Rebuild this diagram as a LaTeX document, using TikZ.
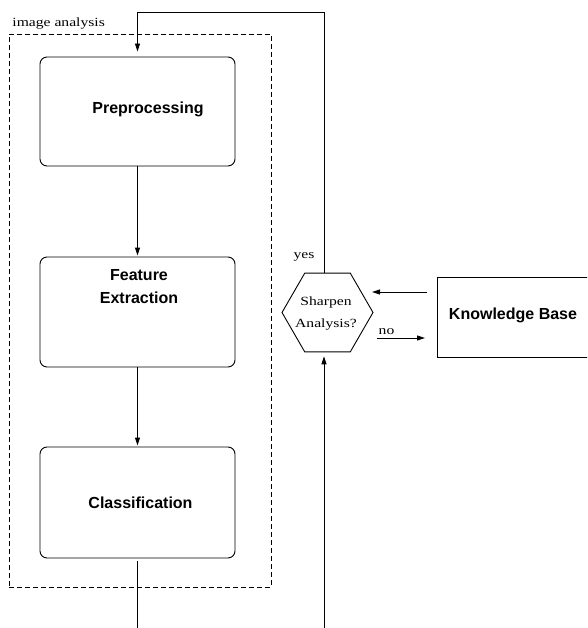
\documentclass[tikz,border=0pt]{standalone}
\usepackage{fontspec}
\setmainfont{Liberation Serif}
\newfontfamily\xfsans[FakeStretch=1.0]{Liberation Sans}
\newfontfamily\xfserif[FakeStretch=1.25]{Liberation Serif}
\usetikzlibrary{arrows.meta,shapes.geometric}
\begin{document}
\begin{tikzpicture}[x=1pt,y=-1pt,
  line width=0.9pt,
  stepbox/.style={draw, rounded corners=7pt, minimum width=195pt, inner sep=0pt},
  kbbox/.style={draw, minimum width=170pt, minimum height=80pt, inner sep=0pt},
  hexa/.style={draw, regular polygon, regular polygon sides=6, minimum size=91pt, inner sep=0pt},
  btext/.style={font=\xfsans\bfseries\fontsize{16}{23}\selectfont, anchor=base, inner sep=0pt, align=center},
  stext/.style={font=\xfserif\fontsize{12.5}{14}\selectfont, anchor=base, inner sep=0pt},
  arr/.style={-{Triangle[length=8pt,width=5pt]}},
  grp/.style={draw, dash pattern=on 5pt off 3pt}
]
\useasboundingbox (0,0) rectangle (587,628);
\clip (0,0) rectangle (587,628);

% group frame
\node[grp, minimum width=262pt, minimum height=553pt, inner sep=0pt] (grpbox) at (140,310.5) {};
\node[stext, anchor=base west] (grplabel) at (12,27) {image analysis};

% steps
\node[stepbox, minimum height=109pt] (pre) at (137.5,111.5) {};
\node[stepbox, minimum height=110pt] (feat) at (137.5,312) {};
\node[stepbox, minimum height=111pt] (cls) at (137.5,502.5) {};
\node[btext] (tpre) at (148,114) {Preprocessing};
\node[btext] (tfeat) at (139,303) {Feature\\Extraction};
\node[btext] (tcls) at (140.5,508) {Classification};

% decision
\node[hexa] (hex) at (327.5,312.5) {};
\node[stext] (tsharp) at (326,305) {Sharpen};
\node[stext] (tana) at (326,327) {Analysis?};
\node[stext] (tyes) at (304,258) {yes};
\node[stext] (tno) at (386.5,334) {no};

% knowledge base
\node[kbbox] (kb) at (522,317) {};
\node[btext] (tkb) at (513,319) {Knowledge Base};

% coordinates for free ends
\coordinate (topR) at (324,12);
\coordinate (botL) at (137.5,628);
\coordinate (botR) at (324,628);
\coordinate (kbout) at (427,292);
\coordinate (hexin) at (372,292);
\coordinate (noout) at (377,338);
\coordinate (noin) at (425,338);

% connectors
\draw[arr, shorten >=1pt] (pre.south) -- (feat.north);
\draw[arr, shorten >=1pt] (feat.south) -- (cls.north);
\draw ([yshift=-3pt]cls.south) -- (botL);
\draw[arr, shorten >=4pt] (botR) -- (hex.south -| botR);
\draw[arr, shorten >=5pt] (hex.north -| topR) -- (topR) -| (pre.north);
\draw[arr] (kbout) -- (hexin);
\draw[arr] (noout) -- (noin);
\end{tikzpicture}
\end{document}
